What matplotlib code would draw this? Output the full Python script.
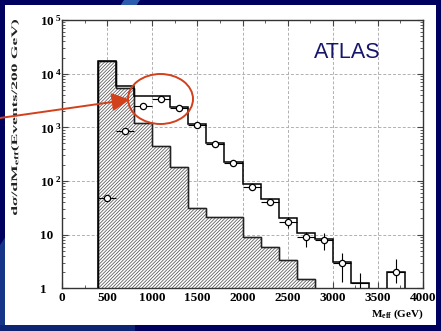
import numpy as np
import matplotlib.pyplot as plt
from matplotlib.patches import Rectangle, Polygon, Ellipse, FancyArrowPatch, PathPatch
from matplotlib.textpath import TextPath
from matplotlib.font_manager import FontProperties
from matplotlib.transforms import Affine2D
from matplotlib.ticker import MultipleLocator, LogLocator, NullFormatter

plt.rcParams['font.family'] = ['Liberation Serif', 'DejaVu Serif']
plt.rcParams['font.weight'] = 'bold'
plt.rcParams['mathtext.fontset'] = 'custom'
plt.rcParams['mathtext.rm'] = 'Liberation Serif:bold'
plt.rcParams['mathtext.it'] = 'Liberation Serif:italic:bold'
plt.rcParams['mathtext.bf'] = 'Liberation Serif:bold'
plt.rcParams['hatch.linewidth'] = 0.55

# SM background (hatched), 200 GeV bins from 400 to 2800 GeV
bg_edges = np.arange(400, 2801, 200)
bg_counts = [1.7e4, 5.3e3, 1.18e3, 440, 184, 32, 21.6, 21, 8.9, 5.8, 3.3, 1.5]

# signal + background (open histogram), 400 to 3800 GeV; 0.1 = empty bin
tot_edges = np.arange(400, 3801, 200)
tot_counts = [1.7e4, 5.9e3, 3.9e3, 3.9e3, 2.4e3, 1.15e3, 500, 228, 87, 46,
              20, 10.6, 8.2, 3.05, 1.27, 0.1, 2.04]

# signal points with error bars
sig_x = [500, 700, 900, 1100, 1300, 1500, 1700, 1900, 2100, 2300, 2500,
         2700, 2900, 3100, 3300, 3700]
sig_y = [49, 850, 2500, 3400, 2300, 1100, 487, 218, 78, 41, 17, 8.9, 7.9,
         3.0, 1.27, 2.04]
sig_lo = [44, 800, 2400, 3300, 2200, 1050, 460, 205, 72, 36, 13.1, 5.95,
          5.2, 1.33, 0.5, 1.24]
sig_hi = [54, 900, 2600, 3500, 2400, 1150, 515, 232, 85, 47, 21.5, 11.3,
          10.6, 4.6, 1.9, 3.46]
sig_marker = [True] * 14 + [False, True]

x_ticks = [0, 500, 1000, 1500, 2000, 2500, 3000, 3500, 4000]
y_ticks = [1, 10, 1e2, 1e3, 1e4, 1e5]
y_ticklabels = ['1', '10', r'$10^{\ 2}$', r'$10^{\ 3}$', r'$10^{\ 4}$', r'$10^{\ 5}$']

W, H = 441, 331
fig = plt.figure(figsize=(W / 100, H / 100), dpi=100)
fig.patch.set_facecolor('#00005e')

# slide background: lighter swoosh behind a white panel
fig.patches.append(Polygon([(124 / W, 1), (140 / W, 1), (120 / W, 1 - 30 / H), (104 / W, 1 - 30 / H)],
                           closed=True, transform=fig.transFigure,
                           facecolor='#2b5cae', edgecolor='none', zorder=0))
fig.patches.append(Polygon([(0, 1 - 245 / H), (30 / W, 1 - 200 / H), (6 / W, 0), (0, 0)],
                           closed=True, transform=fig.transFigure,
                           facecolor='#163488', edgecolor='none', zorder=0))
fig.patches.append(Polygon([(0, 0), (135 / W, 0), (135 / W, 6 / H), (0, 6 / H)],
                           closed=True, transform=fig.transFigure,
                           facecolor='#0c2474', edgecolor='none', zorder=0))
fig.patches.append(Rectangle((5 / W, 6 / H), 431 / W, 320 / H, transform=fig.transFigure,
                             facecolor='white', edgecolor='none', zorder=1))

ax = fig.add_axes([62 / W, 42.7 / H, 361 / W, 268.3 / H])
ax.set_facecolor('white')
ax.set_zorder(2)

ax.stairs(bg_counts, bg_edges, baseline=0.5, fill=True, hatch='//////////',
          facecolor='white', edgecolor='#555555', lw=1.0, zorder=2)
ax.stairs(bg_counts, bg_edges, baseline=0.5, fill=False, color='#222222', lw=1.0, zorder=3)
ax.stairs(tot_counts, tot_edges, baseline=0.1, fill=False, color='black', lw=1.1, zorder=4)

sx = np.array(sig_x, dtype=float)
sy = np.array(sig_y)
yerr = [sy - np.array(sig_lo), np.array(sig_hi) - sy]
ax.errorbar(sx, sy, xerr=100, yerr=yerr, fmt='none', ecolor='black',
            elinewidth=0.8, capsize=0, zorder=5)
m = np.array(sig_marker)
ax.plot(sx[m], sy[m], 'o', ms=4.5, mfc='white', mec='black', mew=0.9, zorder=6)

ax.set_yscale('log')
ax.set_xlim(0, 4000)
ax.set_ylim(1, 1e5)
ax.set_xticks(x_ticks)
ax.set_xticklabels([str(v) for v in x_ticks], fontsize=9.5)
ax.xaxis.set_minor_locator(MultipleLocator(250))
ax.set_yticks(y_ticks)
ax.set_yticklabels(y_ticklabels, fontsize=9.5)
ax.yaxis.set_minor_locator(LogLocator(base=10, subs=np.arange(2, 10)))
ax.yaxis.set_minor_formatter(NullFormatter())
ax.tick_params(which='both', direction='in', top=True, right=True, color='#444444')
ax.tick_params(which='major', length=4, width=0.8)
ax.tick_params(which='minor', length=2.5, width=0.6)
ax.tick_params(axis='x', which='major', pad=3)
ax.tick_params(axis='y', which='major', pad=16)
for lbl in ax.get_yticklabels():
    lbl.set_horizontalalignment('left')
ax.grid(True, which='major', linestyle=(0, (3, 2)), color='#b0b0b0', lw=0.7)
for sp in ax.spines.values():
    sp.set_color('#333333')
    sp.set_linewidth(1.0)

# y label drawn as a stretched text path (long and narrow glyphs)
ylab = TextPath((0, 0), r'd$\sigma$/dM$_{\rm eff}$(Events/200 GeV)', size=1,
                prop=FontProperties(family='Liberation Serif', weight='bold'))
ext = ylab.get_extents()
lab_len, lab_em = 195.0, 8.5
tr = (Affine2D().translate(-ext.x0 - ext.width / 2, -ext.y0 - ext.height / 2)
      .scale(lab_len / ext.width, lab_em)
      .rotate_deg(90)
      .translate(15, H - 117.5))
fig.patches.append(PathPatch(tr.transform_path(ylab), transform=None,
                             facecolor='#222222', edgecolor='none', zorder=5))

ax.text(0.928, -0.098, r'M$_{\rm eff}$ (GeV)', transform=ax.transAxes,
        ha='center', va='center', fontsize=8)
ax.text(0.79, 0.88, 'ATLAS', transform=ax.transAxes, ha='center', va='center',
        fontsize=15.5, fontweight='normal', family='Liberation Sans', color='#16166a')

# highlight around the signal bump
red = '#d2401c'
fig.patches.append(Ellipse((160.5 / W, 1 - 99 / H), 65 / W, 50 / H, transform=fig.transFigure,
                           fill=False, edgecolor=red, lw=1.4, zorder=10))
fig.patches.append(FancyArrowPatch((0, 1 - 118 / H), (130 / W, 1 - 99.5 / H),
                                   transform=fig.transFigure, color=red, lw=1.4,
                                   arrowstyle='-|>,head_length=1.1,head_width=0.55',
                                   mutation_scale=10, shrinkA=0, shrinkB=0, zorder=10))

fig.savefig('out.png', dpi=100, facecolor=fig.get_facecolor())
